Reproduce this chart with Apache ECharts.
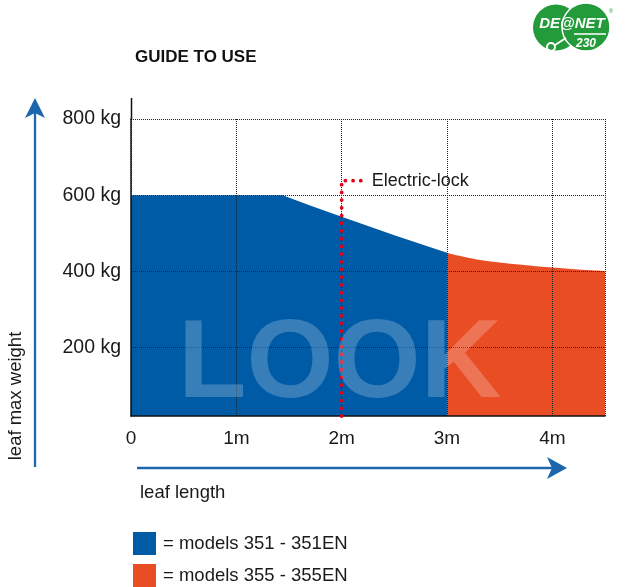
<!DOCTYPE html>
<html>
<head>
<meta charset="utf-8">
<script src="https://cdn.jsdelivr.net/npm/echarts@6/dist/echarts.min.js"></script>
<style>
  html, body { margin: 0; padding: 0; background: #fff; }
  #main { width: 625px; height: 587px; }
</style>
</head>
<body>
<div id="main"></div>
<script>
// leaf length (m) / max weight (kg)
var blueModel = '= models 351 - 351EN';
var orangeModel = '= models 355 - 355EN';
var bluePoints = [[0, 600], [1.44, 600], [1.7, 573], [2.0, 543], [2.5, 495], [3.0, 449]];
var orangePoints = [[3.0, 448], [3.25, 433], [3.5, 423], [3.75, 416], [4.0, 410], [4.25, 405], [4.5, 401]];
var lockPoints = [[2, 20], [2, 638], [2.21, 638]];
var weightTicks = [200, 400, 600, 800];
var lengthTicks = [0, 1, 2, 3, 4];

var blue = '#005ba7';
var orange = '#e84d24';
var arrowBlue = '#1c66ad';
var ink = '#1a1a1a';

function loadChart() {
    var chartDom = document.getElementById('main');
    var myChart = echarts.init(chartDom);
    var option;

    option = {
        animation: false,
        grid: { left: 131, right: 20, top: 119, bottom: 171 },
        xAxis: {
            type: 'value',
            min: 0,
            max: 4.5,
            interval: 1,
            z: 3,
            axisLine: { lineStyle: { color: '#111', width: 1.5 } },
            axisTick: { show: false },
            axisLabel: {
                fontSize: 19,
                color: ink,
                margin: 13,
                showMaxLabel: false,
                formatter: function (v) {
                    if (lengthTicks.indexOf(v) < 0) return '';
                    return v === 0 ? '0' : v + 'm';
                }
            },
            splitLine: { show: true, lineStyle: { color: '#222', type: 'dotted', width: 1 } }
        },
        yAxis: {
            type: 'value',
            min: 20,
            max: 800,
            z: 3,
            axisLine: { show: true, lineStyle: { color: '#111', width: 1.5 } },
            axisTick: { show: false, customValues: weightTicks },
            axisLabel: {
                customValues: weightTicks,
                formatter: '{value} kg',
                fontSize: 19.5,
                color: ink,
                margin: 10
            },
            splitLine: { show: true, lineStyle: { color: '#222', type: 'dotted', width: 1 } }
        },
        legend: {
            orient: 'vertical',
            left: 133,
            top: 532,
            padding: 0,
            itemWidth: 23,
            itemHeight: 23,
            itemGap: 9,
            icon: 'rect',
            textStyle: { fontSize: 18.5, color: ink, padding: [0, 0, 0, 2] },
            data: [
                { name: blueModel, itemStyle: { color: blue } },
                { name: orangeModel, itemStyle: { color: orange } }
            ]
        },
        series: [
            {
                name: blueModel,
                type: 'line',
                data: bluePoints,
                symbol: 'none',
                itemStyle: { color: blue },
                lineStyle: { width: 0 },
                areaStyle: { color: blue, opacity: 1, origin: 'start' },
                z: 1
            },
            {
                name: orangeModel,
                type: 'line',
                data: orangePoints,
                symbol: 'none',
                smooth: 0.4,
                itemStyle: { color: orange },
                lineStyle: { width: 0 },
                areaStyle: { color: orange, opacity: 1, origin: 'start' },
                z: 1
            },
            {
                name: 'Electric-lock',
                type: 'line',
                data: lockPoints,
                symbol: 'none',
                clip: false,
                lineStyle: { color: '#e2001a', width: 3.8, type: [0.01, 7.7], cap: 'round' },
                endLabel: {
                    show: true,
                    formatter: 'Electric-lock',
                    fontSize: 18,
                    color: ink,
                    distance: 8
                },
                z: 5
            }
        ],
        graphic: [
            // title
            { type: 'text', x: 135, y: 57, style: { text: 'GUIDE TO USE', font: 'bold 17px "Liberation Sans", Arial', fill: '#111', textVerticalAlign: 'middle' } },
            // watermark
            { type: 'text', x: 178, y: 366, z: 10, style: { text: 'LOOK', font: 'bold 112px "Liberation Sans", Arial', fill: 'rgba(255,255,255,0.22)', textVerticalAlign: 'middle' } },
            // y axis line above the top grid line
            { type: 'line', shape: { x1: 131.5, y1: 98, x2: 131.5, y2: 120 }, style: { stroke: '#111', lineWidth: 1.5 } },
            // vertical arrow
            { type: 'line', shape: { x1: 35, y1: 467, x2: 35, y2: 112 }, style: { stroke: arrowBlue, lineWidth: 2.3 } },
            { type: 'polygon', shape: { points: [[35, 98], [45, 118], [35, 113], [25, 118]] }, style: { fill: arrowBlue } },
            { type: 'text', x: 15.5, y: 396, rotation: Math.PI / 2, style: { text: 'leaf max weight', font: '18.5px "Liberation Sans", Arial', fill: ink, textAlign: 'center', textVerticalAlign: 'middle' } },
            // horizontal arrow
            { type: 'line', shape: { x1: 137, y1: 468, x2: 553, y2: 468 }, style: { stroke: arrowBlue, lineWidth: 2.3 } },
            { type: 'polygon', shape: { points: [[567, 468], [547, 457], [552, 468], [547, 479]] }, style: { fill: arrowBlue } },
            { type: 'text', x: 140, y: 493, style: { text: 'leaf length', font: '18.5px "Liberation Sans", Arial', fill: ink, textVerticalAlign: 'middle' } },
            // logo
            { type: 'circle', shape: { cx: 556, cy: 27.5, r: 23 }, style: { fill: '#239b3a' } },
            { type: 'circle', shape: { cx: 586, cy: 27, r: 24 }, style: { fill: '#239b3a', stroke: '#fff', lineWidth: 1.5 } },
            { type: 'text', x: 572, y: 24, style: { text: 'DE@NET', font: 'italic bold 15px "Liberation Sans", Arial', fill: '#fff', textAlign: 'center', textVerticalAlign: 'middle' } },
            { type: 'line', shape: { x1: 574, y1: 34, x2: 606, y2: 34 }, style: { stroke: '#fff', lineWidth: 1.5 } },
            { type: 'text', x: 586, y: 44, style: { text: '230', font: 'italic bold 12px "Liberation Sans", Arial', fill: '#fff', textAlign: 'center', textVerticalAlign: 'middle' } },
            { type: 'circle', shape: { cx: 551, cy: 47, r: 4 }, style: { fill: 'none', stroke: '#fff', lineWidth: 2 } },
            { type: 'line', shape: { x1: 555, y1: 45, x2: 566, y2: 38 }, style: { stroke: '#fff', lineWidth: 2 } },
            { type: 'text', x: 611, y: 11, style: { text: '®', font: '6px "Liberation Sans", Arial', fill: '#239b3a', textAlign: 'center', textVerticalAlign: 'middle' } }
        ]
    };

    myChart.setOption(option);
}

document.addEventListener('DOMContentLoaded', () => {
    loadChart();
});
</script>
</body>
</html>
